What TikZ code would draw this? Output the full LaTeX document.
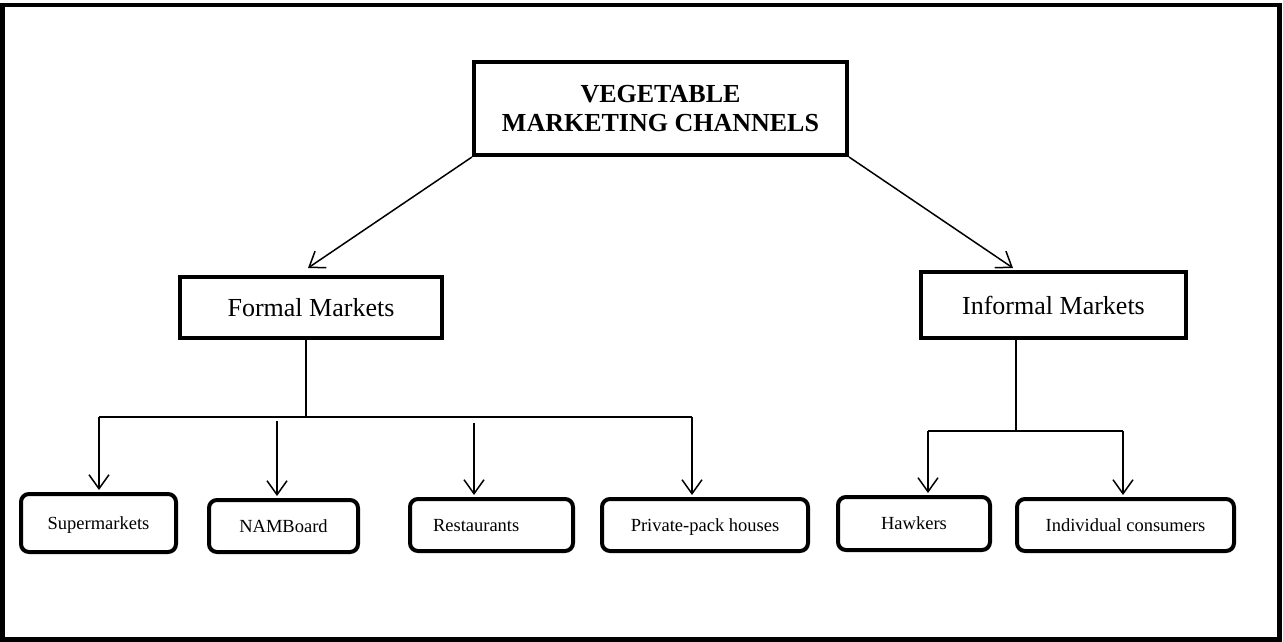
\documentclass[tikz,border=0pt]{standalone}
\usepackage{fontspec}
\setmainfont{Liberation Serif}
\usetikzlibrary{arrows.meta,calc}
\begin{document}
\begin{tikzpicture}[x=1pt,y=-1pt,
  heavy/.style={draw,line width=4pt,inner sep=0pt},
  topbox/.style={heavy,minimum width=373pt,minimum height=93pt,align=center,
    font=\fontsize{26}{29}\selectfont\bfseries},
  midbox/.style={heavy,font=\fontsize{26}{30}\selectfont},
  leaf/.style={heavy,rounded corners=8pt,font=\fontsize{18.5}{22}\selectfont,
    text height=12pt,text depth=0pt},
  conn/.style={line width=1.5pt},
  arr/.style={conn,shorten >=2pt,-{Straight Barb[length=14pt,width=20pt,line width=1.5pt]}}]
\useasboundingbox (0,0) rectangle (1283,642);
\draw[line width=4.5pt] (2.5,5) rectangle (1279.5,639.5);

\node[topbox] (top) at (660.5,108.5) {VEGETABLE\\MARKETING CHANNELS};
\node[midbox,minimum width=262pt,minimum height=61pt] (formal) at (311,307.5) {Formal Markets};
\node[midbox,minimum width=265pt,minimum height=66pt] (informal) at (1053.5,305) {Informal Markets};

\node[leaf,minimum width=155pt,minimum height=58pt] (sup) at (98.5,523) {Supermarkets};
\node[leaf,minimum width=149pt,minimum height=52pt] (nam) at (283.5,526) {NAMBoard};
\node[leaf,minimum width=163pt,minimum height=52pt,align=left,text width=117pt] (res) at (491.5,525) {Restaurants};
\node[leaf,minimum width=206pt,minimum height=52pt] (pri) at (705,525) {Private-pack houses};
\node[leaf,minimum width=152pt,minimum height=53pt] (haw) at (914,523.5) {Hawkers};
\node[leaf,minimum width=217pt,minimum height=52pt] (ind) at (1125.5,525) {Individual consumers};

% diagonal arrows
\coordinate (fm) at (308,268);
\coordinate (im) at (1013,268);
\draw[arr,shorten >=0pt] (top.south west) -- (fm);
\draw[arr,shorten >=0pt] (top.south east) -- (im);

% formal tree
\coordinate (fb) at (306,417);
\coordinate (fL) at (99,417);
\coordinate (fR) at (692,417);
\coordinate (n0) at (277,421);
\coordinate (r0) at (474,423);
\draw[conn] (fb |- formal.south) -- (fb);
\draw[conn] (fL) -- (fR);
\draw[arr] (fL) -- (fL |- sup.north);
\draw[arr] (n0) -- (n0 |- nam.north);
\draw[arr] (r0) -- (r0 |- res.north);
\draw[arr] (fR) -- (fR |- pri.north);

% informal tree
\coordinate (ib) at (1016,431);
\coordinate (iL) at (928,431);
\coordinate (iR) at (1123,431);
\draw[conn] (ib |- informal.south) -- (ib);
\draw[conn] (iL) -- (iR);
\draw[arr] (iL) -- (iL |- haw.north);
\draw[arr] (iR) -- (iR |- ind.north);
\end{tikzpicture}
\end{document}
